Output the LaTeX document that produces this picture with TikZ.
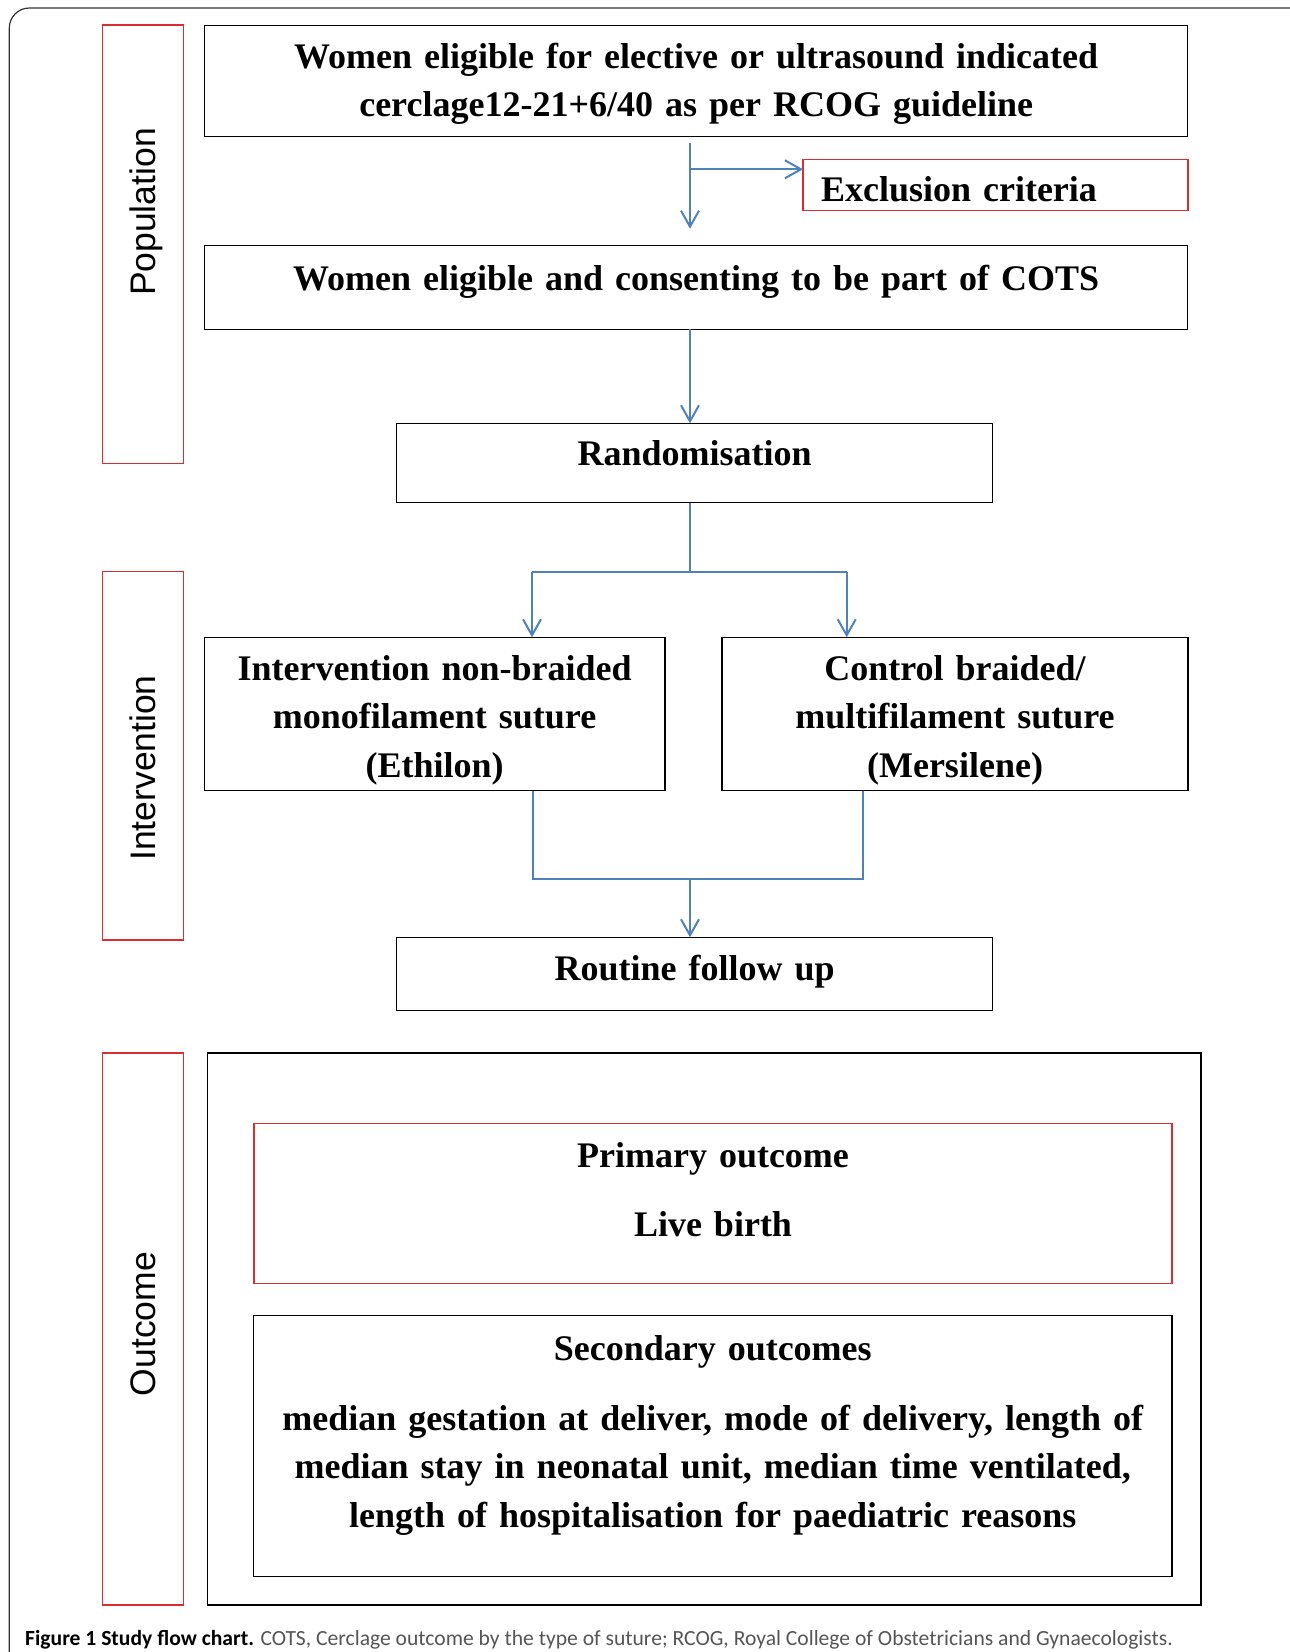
\documentclass[tikz,border=0pt]{standalone}
\usepackage{fontspec}
\setmainfont{Liberation Serif}
\setsansfont{Liberation Sans}
\newfontfamily\captionfont{Carlito}
\usetikzlibrary{arrows.meta}

\definecolor{flowblue}{RGB}{79,129,189}
\definecolor{phasered}{RGB}{218,45,50}
\definecolor{captiongray}{RGB}{85,85,85}

\tikzstyle{stage}=[draw=black, line width=1.3pt, inner xsep=6pt, inner ysep=0pt, outer sep=0pt, anchor=north west, align=center, font=\fontsize{36}{48.6}\selectfont\bfseries]
\tikzstyle{redstage}=[stage, draw=phasered]
\tikzstyle{phase}=[draw=phasered, line width=1.5pt]
\tikzstyle{phaselabel}=[rotate=90, anchor=base, inner sep=0pt, font=\sffamily\fontsize{35.5}{40}\selectfont]
\tikzstyle{link}=[draw=flowblue, line width=2pt]
\tikzstyle{flow}=[link, -{Straight Barb[length=16pt, width=18pt]}]

\begin{document}
\begin{tikzpicture}[x=1pt, y=-1pt]
\useasboundingbox (0, 0) rectangle (1290, 1652);
\draw[line width=1.2pt, rounded corners=20pt, black!80] (9.3, 1660) -- (9.3, 8) -- (1300, 8);

% phases on the left
\draw[phase] (102.7, 25) rectangle (183.3, 463.7);
\node[phaselabel] at (155, 212) (poplabel) {Population};
\draw[phase] (102.7, 571.7) rectangle (183.3, 940);
\node[phaselabel] at (155, 768) (intlabel) {Intervention};
\draw[phase] (102.7, 1053) rectangle (183.3, 1605);
\node[phaselabel] at (155, 1324) (outlabel) {Outcome};

% flow boxes
\node[stage, text width=971.3pt, text height=42.6pt, text depth=68pt] at (204.5, 25.7) (elig) {Women eligible for elective or ultrasound indicated\\cerclage12-21+6/40 as per RCOG guideline};
\node[redstage, text width=349pt, inner xsep=18pt, align=left, text height=42.4pt, text depth=8.6pt] at (803, 159.3) (excl) {Exclusion criteria};
\node[stage, text width=971.5pt, text height=44.3pt, text depth=39.3pt] at (204.3, 245.7) (consent) {Women eligible and consenting to be part of COTS};
\node[stage, text width=584.5pt, text height=41.7pt, text depth=37.7pt] at (396.3, 423.3) (rand) {Randomisation};
\node[stage, text width=448.7pt, text height=42.7pt, text depth=110.7pt] at (204.3, 637.3) (ethilon) {Intervention non-braided\\monofilament suture\\(Ethilon)};
\node[stage, text width=454pt, text height=42.7pt, text depth=110.7pt] at (722, 637.3) (mersilene) {Control braided/\\multifilament suture\\(Mersilene)};
\node[stage, text width=584.5pt, text height=42.7pt, text depth=30.7pt] at (396.3, 937.3) (followup) {Routine follow up};

% outcome block
\node[draw, line width=1.3pt, anchor=north west, inner sep=0pt, outer sep=0pt, minimum width=993.4pt, minimum height=552pt] at (207.6, 1053) (outcome) {};
\node[redstage, text width=906pt, text height=43.7pt, text depth=116.3pt] at (254, 1123.3) (primary) {Primary outcome\\[21.3pt]Live birth};
\node[stage, text width=906.5pt, text height=44.3pt, text depth=216.7pt] at (253.5, 1315.7) (secondary) {Secondary outcomes\\[21.5pt]median gestation at deliver, mode of delivery, length of\\median stay in neonatal unit, median time ventilated,\\length of hospitalisation for paediatric reasons};

% connectors
\coordinate (spine) at (690, 0);
\coordinate (branch) at (690, 169.3);
\coordinate (forkL) at (532, 571.7);
\coordinate (forkR) at (846.7, 571.7);
\coordinate (mergeL) at (532.7, 879);
\coordinate (mergeR) at (862.7, 879);
\draw[flow, shorten <=7pt, shorten >=17pt] (spine |- elig.south) -- (spine |- consent.north);
\draw[flow] (branch) -- (branch -| excl.west);
\draw[flow] (spine |- consent.south) -- (spine |- rand.north);
\draw[link] (spine |- rand.south) -- (spine |- forkL);
\draw[link] (forkL) -- (forkR);
\draw[flow] (forkL) -- (forkL |- ethilon.north);
\draw[flow] (forkR) -- (forkR |- mersilene.north);
\draw[link] (mergeL |- ethilon.south) -- (mergeL) -- (mergeR) -- (mergeR |- mersilene.south);
\draw[flow] (spine |- mergeL) -- (spine |- followup.north);

% caption
\node[anchor=base west, inner sep=0pt, font=\captionfont\fontsize{21.6}{25}\selectfont] at (25, 1645) (caption) {\textbf{Figure 1 Study flow chart.} \textcolor{captiongray}{COTS, Cerclage outcome by the type of suture; RCOG, Royal College of Obstetricians and Gynaecologists.}};
\end{tikzpicture}
\end{document}
